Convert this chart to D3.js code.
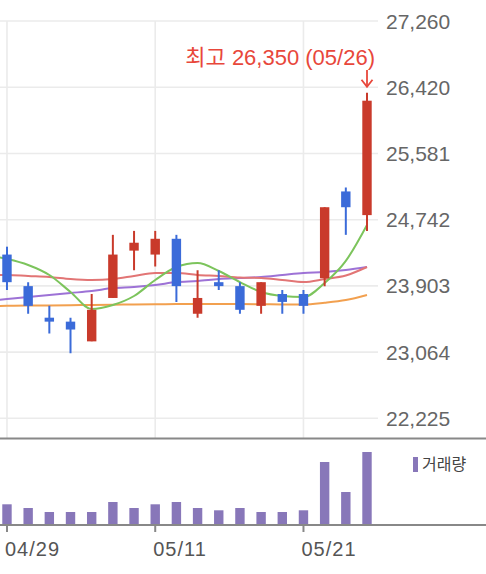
<!DOCTYPE html>
<html>
<head>
<meta charset="utf-8">
<script src="https://cdn.jsdelivr.net/npm/d3@7"></script>
<style>
  body { margin: 0; background: #fff; }
  svg { display: block; }
  text { font-family: "Liberation Sans", Arial, "Noto Sans CJK KR", sans-serif; }
</style>
</head>
<body>
<div id="chart"></div>
<script>
// trading days (04/28 only feeds the moving average lines at the left edge)
var dates = ['04/28', '04/29', '04/30', '05/03', '05/04', '05/06', '05/07', '05/10', '05/11', '05/12',
             '05/13', '05/14', '05/17', '05/18', '05/20', '05/21', '05/24', '05/25', '05/26'];
var open  = [null, 24300, 23900, 23500, 23450, 23200, 23750, 24350, 24300, 24500, 23550, 23950, 23900, 23650, 23800, 23800, 24000, 25100, 24800];
var close = [null, 23950, 23650, 23450, 23350, 23600, 24300, 24450, 24500, 23900, 23750, 23900, 23600, 23950, 23700, 23650, 24900, 24900, 26250];
var high  = [null, 24400, 23950, 23650, 23500, 23800, 24550, 24600, 24600, 24550, 24100, 24100, 23950, 23950, 23850, 23850, 24900, 25150, 26350];
var low   = [null, 23850, 23550, 23300, 23050, 23200, 23750, 24100, 24150, 23700, 23500, 23850, 23550, 23550, 23550, 23550, 23900, 24550, 24600];
var volume = [null, 103500, 85000, 65000, 65000, 65000, 115000, 85000, 103500, 115000, 85000, 73500, 85000, 65000, 65000, 73500, 315000, 165000, 365000];

var ma5   = [24295, 24244, 24168, 24041, 23826, 23610, 23661, 23775, 23978, 24142, 24193, 24092, 23952, 23826, 23775, 23762, 23940, 24220, 24675];
var ma20  = [24041, 24041, 24028, 24016, 23990, 23978, 23990, 24028, 24066, 24066, 24041, 24028, 24010, 24003, 23978, 23952, 23990, 24035, 24142];
var ma60  = [23712, 23737, 23762, 23788, 23813, 23838, 23876, 23889, 23914, 23952, 23965, 23990, 24003, 24016, 24041, 24066, 24079, 24104, 24142];
var ma120 = [23645, 23650, 23653, 23656, 23659, 23662, 23665, 23667, 23670, 23672, 23674, 23674, 23672, 23670, 23668, 23668, 23690, 23724, 23788];

var priceTicks = [22225, 23064, 23903, 24742, 25581, 26420, 27260];
var dateTicks = ['04/29', '05/11', '05/21'];

var width = 486, height = 574;
var plotRight = 378, priceBottom = 438.5, volBase = 525;

var svg = d3.select('#chart').append('svg')
  .attr('width', width)
  .attr('height', height);

var x = d3.scalePoint().domain(dates).range([-14.2, 367]);
var y = d3.scaleLinear().domain([22225, 27260]).range([418.3, 21]);
var yVol = d3.scaleLinear().domain([0, 400000]).range([volBase, 445]);

svg.append('clipPath').attr('id', 'clip')
  .append('rect').attr('x', 0).attr('y', 0).attr('width', plotRight).attr('height', priceBottom);

// grid
svg.selectAll('.hgrid').data(priceTicks).enter().append('line')
  .attr('x1', 0).attr('x2', plotRight)
  .attr('y1', function(d) { return y(d); }).attr('y2', function(d) { return y(d); })
  .attr('stroke', '#ebebeb').attr('stroke-width', 1.6);

svg.selectAll('.vgrid').data(dateTicks).enter().append('line')
  .attr('x1', function(d) { return x(d); }).attr('x2', function(d) { return x(d); })
  .attr('y1', y(27260)).attr('y2', priceBottom)
  .attr('stroke', '#ebebeb').attr('stroke-width', 1.6);

// price labels
svg.selectAll('.plabel').data(priceTicks).enter().append('text')
  .attr('x', 386).attr('y', function(d) { return y(d); })
  .attr('dy', '0.36em')
  .attr('font-size', 21)
  .attr('fill', '#666')
  .text(function(d) { return d3.format(',')(d); });

var g = svg.append('g').attr('clip-path', 'url(#clip)');

// moving averages
var line = d3.line()
  .x(function(d, i) { return x(dates[i]); })
  .y(function(d) { return y(d); })
  .curve(d3.curveMonotoneX);

var mas = [
  { values: ma120, color: '#f2a04f' },
  { values: ma60, color: '#9d72d6' },
  { values: ma20, color: '#e27575' },
  { values: ma5, color: '#7cc45c' }
];
g.selectAll('.ma').data(mas).enter().append('path')
  .attr('d', function(d) { return line(d.values); })
  .attr('fill', 'none')
  .attr('stroke', function(d) { return d.color; })
  .attr('stroke-width', 2);

// candles
var idx = d3.range(dates.length).filter(function(i) { return open[i] != null; });
var up = '#c93a2b', down = '#3b6bd9';
var candle = g.selectAll('.candle').data(idx).enter().append('g');

candle.append('line')
  .attr('x1', function(i) { return x(dates[i]); })
  .attr('x2', function(i) { return x(dates[i]); })
  .attr('y1', function(i) { return y(high[i]); })
  .attr('y2', function(i) { return y(low[i]); })
  .attr('stroke', function(i) { return close[i] >= open[i] ? up : down; })
  .attr('stroke-width', 2);

candle.append('rect')
  .attr('x', function(i) { return x(dates[i]) - 4.7; })
  .attr('width', 9.4)
  .attr('y', function(i) { return y(Math.max(open[i], close[i])); })
  .attr('height', function(i) { return Math.max(1, Math.abs(y(open[i]) - y(close[i]))); })
  .attr('fill', function(i) { return close[i] >= open[i] ? up : down; });

// highest price marker
var hi = d3.maxIndex(high);
var hx = x(dates[hi]), hy = y(high[hi]);
var red = '#e8473b';
svg.append('text')
  .attr('x', 375).attr('y', 65)
  .attr('text-anchor', 'end')
  .attr('font-size', 22)
  .attr('fill', red)
  .text('최고 ' + d3.format(',')(high[hi]) + ' (' + dates[hi] + ')');
svg.append('line')
  .attr('x1', hx).attr('x2', hx).attr('y1', 70).attr('y2', hy - 6)
  .attr('stroke', red).attr('stroke-width', 1.8);
svg.append('path')
  .attr('d', 'M' + (hx - 5.5) + ',' + (hy - 13) + 'L' + hx + ',' + (hy - 6) + 'L' + (hx + 5.5) + ',' + (hy - 13))
  .attr('fill', 'none')
  .attr('stroke', red).attr('stroke-width', 1.8);

// panel borders
svg.append('line')
  .attr('x1', 0).attr('x2', width).attr('y1', priceBottom).attr('y2', priceBottom)
  .attr('stroke', '#888').attr('stroke-width', 2);

// volume
svg.selectAll('.vol').data(idx).enter().append('rect')
  .attr('x', function(i) { return x(dates[i]) - 4.7; })
  .attr('width', 9.4)
  .attr('y', function(i) { return yVol(volume[i]); })
  .attr('height', function(i) { return volBase - yVol(volume[i]); })
  .attr('fill', '#8877b9');

svg.append('line')
  .attr('x1', 0).attr('x2', width).attr('y1', volBase).attr('y2', volBase)
  .attr('stroke', '#888').attr('stroke-width', 2);

svg.selectAll('.tick').data(dateTicks).enter().append('line')
  .attr('x1', function(d) { return x(d); }).attr('x2', function(d) { return x(d); })
  .attr('y1', volBase).attr('y2', volBase + 7)
  .attr('stroke', '#888').attr('stroke-width', 2);

svg.selectAll('.dlabel').data(dateTicks).enter().append('text')
  .attr('x', function(d) { return x(d) - 2; })
  .attr('y', 556)
  .attr('font-size', 20)
  .attr('letter-spacing', 1)
  .attr('fill', '#555')
  .text(function(d) { return d; });

// legend
svg.append('rect')
  .attr('x', 413).attr('y', 457).attr('width', 5).attr('height', 15)
  .attr('fill', '#8877b9');
svg.append('text')
  .attr('x', 422).attr('y', 470)
  .attr('font-size', 16)
  .attr('fill', '#444')
  .text('거래량');
</script>
</body>
</html>
